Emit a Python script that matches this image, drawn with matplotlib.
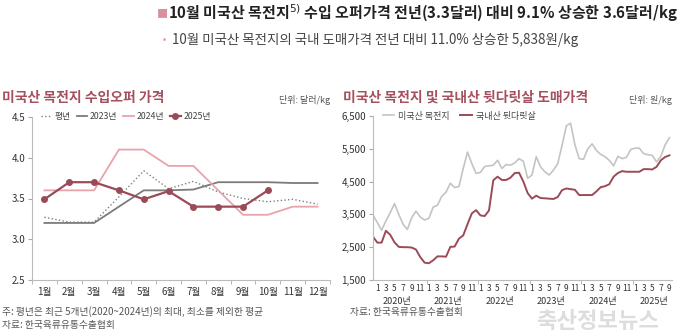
import matplotlib.pyplot as plt
import numpy as np

plt.rcParams['font.family'] = ['Noto Sans CJK KR', 'DejaVu Sans']

# left chart: import offer price (USD/kg)
months = ['1월', '2월', '3월', '4월', '5월', '6월', '7월', '8월', '9월', '10월', '11월', '12월']
avg_year = [3.27, 3.21, 3.21, 3.52, 3.84, 3.62, 3.71, 3.58, 3.50, 3.46, 3.49, 3.43]
y2023 = [3.20, 3.20, 3.20, 3.40, 3.60, 3.60, 3.61, 3.70, 3.70, 3.70, 3.69, 3.69]
y2024 = [3.60, 3.60, 3.60, 4.10, 4.10, 3.90, 3.90, 3.60, 3.30, 3.30, 3.40, 3.40]
y2025 = [3.49, 3.70, 3.70, 3.60, 3.49, 3.59, 3.40, 3.40, 3.40, 3.60]

# right chart: wholesale price (KRW/kg), monthly Dec 2019 - Sep 2025
us_butt = [3480, 3250, 3020, 3300, 3550, 3830, 3500, 3200, 3040, 3400,
           3600, 3420, 3330, 3380, 3720, 3780, 4050, 4180, 4450, 4320,
           4350, 4900, 5400, 5050, 4750, 4780, 4960, 4980, 5000, 5150,
           4900, 5020, 5000, 5070, 5200, 5120, 4600, 4700, 5260, 4950,
           4800, 4700, 4850, 5050, 5600, 6200, 6280, 5620, 5200, 5180,
           5500, 5650, 5450, 5330, 5260, 5150, 4980, 5270, 5200, 5240,
           5480, 5520, 5520, 5350, 5320, 5300, 5100, 5270, 5620, 5840]
kr_ham = [2820, 2640, 2640, 3000, 2880, 2650, 2510, 2500, 2500, 2490,
          2430, 2200, 2030, 2010, 2100, 2220, 2220, 2210, 2510, 2520,
          2760, 2860, 3200, 3530, 3630, 3470, 3450, 3620, 4540, 4650,
          4550, 4550, 4620, 4760, 4770, 4500, 4150, 3980, 4070, 4000,
          3990, 3980, 3970, 4030, 4240, 4290, 4270, 4250, 4090, 4090,
          4090, 4090, 4200, 4330, 4360, 4420, 4650, 4760, 4820, 4800,
          4800, 4800, 4800, 4880, 4880, 4870, 4950, 5150, 5250, 5300]
years = ['2020년', '2021년', '2022년', '2023년', '2024년', '2025년']

maroon = '#9a4b57'
title_col = '#a6505e'
pink = '#e9a3ac'
txt = '#555555'

fig = plt.figure(figsize=(6.8, 3.36), dpi=100)

def px(x, y):
    return x / 680, 1 - y / 336

# header
fig.text(*px(157, 14), '■', fontsize=8, color='#d8909a', va='center')
fig.text(*px(168, 13), '10월 미국산 목전지$^{5)}$ 수입 오퍼가격 전년(3.3달러) 대비 9.1% 상승한 3.6달러/kg',
         fontsize=10.8, fontweight='bold', color='#222222', va='center')
fig.text(*px(163, 40), '•', fontsize=7, color='#d8909a', va='center')
fig.text(*px(172, 40), '10월 미국산 목전지의 국내 도매가격 전년 대비 11.0% 상승한 5,838원/kg',
         fontsize=9.7, color='#444444', va='center')

# ---------- left chart ----------
ax1 = fig.add_axes([32 / 680, 1 - 280 / 336, 298 / 680, 163 / 336])
x = np.arange(len(months))
ax1.plot(x, avg_year, ls=':', color='#808080', lw=1, label='평년')
ax1.plot(x, y2023, ls='-', color='#7b7b7b', lw=1.3, label='2023년')
ax1.plot(x, y2024, ls='-', color=pink, lw=1.3, label='2024년')
ax1.plot(np.arange(len(y2025)), y2025, ls='-', color=maroon, lw=1.6,
         marker='o', ms=4, label='2025년')
ax1.set_xlim(-0.5, 11.5)
ax1.set_ylim(2.5, 4.5)
ax1.set_yticks([2.5, 3.0, 3.5, 4.0, 4.5])
ax1.set_yticklabels(['2.5', '3.0', '3.5', '4.0', '4.5'])
ax1.set_xticks(x)
ax1.set_xticklabels(months)
ax1.set_xticks(np.arange(-0.5, 12, 1), minor=True)
ax1.tick_params(axis='x', which='major', length=0, pad=5, labelsize=7, labelcolor='#333333')
ax1.tick_params(axis='x', which='minor', length=3, color='#aaaaaa')
ax1.tick_params(axis='y', length=3, color='#aaaaaa', labelsize=7, labelcolor='#333333', pad=2)
for s in ['top', 'right']:
    ax1.spines[s].set_visible(False)
for s in ['left', 'bottom']:
    ax1.spines[s].set_color('#bbbbbb')
    ax1.spines[s].set_linewidth(0.8)
leg = ax1.legend(loc='center left', bbox_to_anchor=(0.02, 1.0), ncol=4, frameon=False,
                 fontsize=6.3, handlelength=1.2, handletextpad=0.3, columnspacing=0.7,
                 borderaxespad=0)
for t in leg.get_texts():
    t.set_color('#444444')

fig.text(*px(2, 98), '미국산 목전지 수입오퍼 가격', fontsize=10, fontweight='bold',
         color=title_col, va='center')
fig.text(*px(330, 100), '단위: 달러/kg', fontsize=6.5, color=txt, va='center', ha='right')

# ---------- right chart ----------
ax2 = fig.add_axes([373 / 680, 1 - 280 / 336, 299 / 680, 164 / 336])
k = np.arange(len(us_butt))
ax2.plot(k, us_butt, color='#c4c4c4', lw=1.2, label='미국산 목전지')
ax2.plot(k, kr_ham, color=maroon, lw=1.4, label='국내산 뒷다릿살')
ax2.set_xlim(0, 69.6)
ax2.set_ylim(1500, 6500)
ax2.set_yticks(range(1500, 6501, 1000))
ax2.set_yticklabels([f'{v:,}' for v in range(1500, 6501, 1000)])
ax2.tick_params(axis='y', length=3, color='#aaaaaa', labelsize=7, labelcolor='#333333', pad=2)

mpos, mlab = [], []
for j, yr in enumerate(years):
    last = 9 if j == 5 else 11
    for m in range(1, last + 1, 2):
        mpos.append(1 + 12 * j + (m - 1))
        mlab.append(str(m))
ax2.set_xticks(mpos)
ax2.set_xticklabels(mlab)
ax2.set_xticks([12.5, 24.5, 36.5, 48.5, 60.5], minor=True)
ax2.tick_params(axis='x', which='major', length=0, pad=3, labelsize=6, labelcolor='#333333')
ax2.tick_params(axis='x', which='minor', length=3, color='#aaaaaa')
for j, yr in enumerate(years):
    ax2.text(12 * j + 5.5, -0.105, yr, transform=ax2.get_xaxis_transform(),
             ha='center', va='top', fontsize=6.5, color='#333333')
for s in ['top', 'right']:
    ax2.spines[s].set_visible(False)
for s in ['left', 'bottom']:
    ax2.spines[s].set_color('#bbbbbb')
    ax2.spines[s].set_linewidth(0.8)
leg2 = ax2.legend(loc='center left', bbox_to_anchor=(0.02, 1.0), ncol=2, frameon=False,
                  fontsize=6.5, handlelength=1.3, handletextpad=0.4, columnspacing=1.2,
                  borderaxespad=0)
for t in leg2.get_texts():
    t.set_color('#444444')

fig.text(*px(343, 98), '미국산 목전지 및 국내산 뒷다릿살 도매가격', fontsize=10,
         fontweight='bold', color=title_col, va='center')
fig.text(*px(672, 100), '단위: 원/kg', fontsize=6.5, color=txt, va='center', ha='right')

# footnotes
fig.text(*px(2, 312), '주: 평년은 최근 5개년(2020~2024년)의 최대, 최소를 제외한 평균',
         fontsize=7, color=txt, va='center')
fig.text(*px(2, 325), '자료: 한국육류유통수출협회', fontsize=7, color=txt, va='center')
fig.text(*px(350, 312), '자료: 한국육류유통수출협회', fontsize=7, color=txt, va='center')

# watermark
fig.text(*px(598, 321), '축산정보뉴스', fontsize=16, fontweight='bold', color='#d2d2d2',
         alpha=0.75, ha='center', va='center')

fig.savefig('out.png', dpi=100)
